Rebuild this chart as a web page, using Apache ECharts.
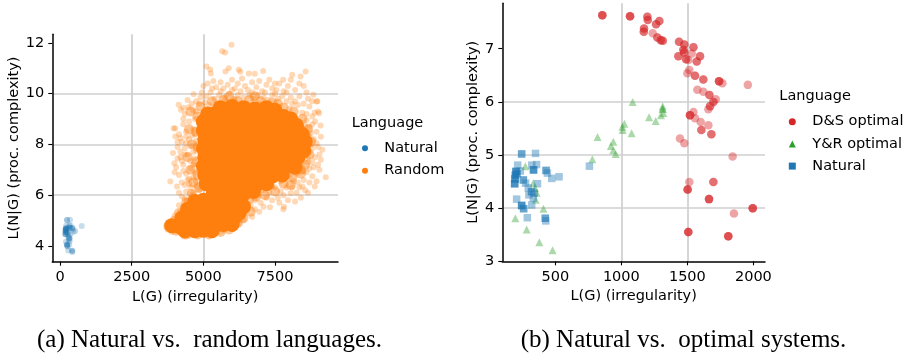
<!DOCTYPE html>
<html><head><meta charset="utf-8">
<script src="https://cdn.jsdelivr.net/npm/echarts@6/dist/echarts.min.js"></script>
<style>html,body{margin:0;padding:0;background:#fff}#c{width:907px;height:354px}</style>
</head><body><div id="c"></div>
<script>
// ---- tick labels ----
const leftXTicks = [0, 2500, 5000, 7500];
const leftYTicks = [4, 6, 8, 10, 12];
const rightXTicks = [500, 1000, 1500, 2000];
const rightYTicks = [3, 4, 5, 6, 7];

// ---- natural languages (L(G), L(N|G)); repeated entries = overlapping points ----
const naturalLangs = [
 [245,5.02],[245,5.02],[350,5.03],[215,4.81],
 [202,4.69],[202,4.69],[202,4.69],[197,4.62],[197,4.62],
 [195,4.55],[195,4.55],[195,4.55],[192,4.46],[192,4.46],[192,4.46],
 [210,4.65],[210,4.65],[335,4.72],[335,4.72],[335,4.72],
 [322,4.81],[358,4.82],[258,4.53],[258,4.53],[275,4.47],
 [430,4.71],[430,4.71],[440,4.66],[473,4.56],[528,4.59],
 [295,4.38],[320,4.31],[320,4.31],[365,4.46],[207,4.17],
 [245,4.05],[245,4.05],[245,4.05],[260,3.99],[260,3.99],
 [321,4.06],[333,4.19],[300,4.25],[288,3.82],
 [424,3.81],[424,3.81],[428,3.76],[758,4.79],[340,4.28],[235,4.70]
];

// ---- random languages: dense core, edge, sparse halo ----
const randomCore = [
 [5600,9.45],[6000,9.5],[6400,9.45],[6800,9.4],[7200,9.45],[7500,9.35],
 [5150,9.2],[5450,9.25],[5800,9.2],[6150,9.25],[6500,9.2],[6850,9.15],[7150,9.2],[7500,9.15],[7800,9.1],[8050,9.0],
 [5000,8.9],[5300,8.85],[5650,8.9],[5950,8.95],[6300,8.9],[6650,8.85],[7000,8.9],[7300,8.85],[7650,8.9],[7950,8.8],[8250,8.75],
 [5000,8.55],[5300,8.6],[5600,8.5],[5950,8.55],[6250,8.6],[6600,8.5],[6900,8.55],[7250,8.6],[7550,8.5],[7900,8.55],[8200,8.5],[8450,8.4],
 [5050,8.2],[5350,8.25],[5700,8.2],[6000,8.15],[6350,8.25],[6700,8.2],[7000,8.15],[7350,8.2],[7700,8.25],[8000,8.15],[8300,8.2],[8550,8.1],
 [5000,7.85],[5300,7.8],[5650,7.9],[5950,7.85],[6300,7.8],[6650,7.9],[6950,7.85],[7300,7.8],[7650,7.85],[7950,7.9],[8250,7.8],[8500,7.75],
 [5050,7.5],[5350,7.45],[5650,7.55],[6000,7.5],[6350,7.45],[6700,7.5],[7050,7.55],[7350,7.45],[7700,7.5],[8000,7.45],[8300,7.5],
 [5000,7.15],[5300,7.2],[5650,7.1],[5950,7.15],[6300,7.2],[6600,7.1],[6950,7.15],[7300,7.2],[7600,7.1],[7950,7.15],[8200,7.1],
 [5050,6.8],[5350,6.75],[5700,6.85],[6000,6.8],[6350,6.75],[6700,6.85],[7050,6.8],[7400,6.75],[7750,6.8],
 [5100,6.45],[5450,6.5],[5800,6.4],[6150,6.45],[6500,6.5],[6850,6.4],[7200,6.45],
 [5350,6.1],[5700,6.15],[6050,6.1],[6400,6.05],[6750,6.15],
 [4700,5.75],[5000,5.8],[5300,5.85],[5600,5.75],[5950,5.8],[6300,5.75],
 [4450,5.45],[4750,5.5],[5050,5.4],[5350,5.45],[5650,5.5],[5950,5.4],[6250,5.3],[6400,5.55],
 [4250,5.1],[4550,5.15],[4850,5.05],[5150,5.1],[5450,5.15],[5750,5.05],[6050,5.05],
 [3900,4.8],[4200,4.75],[4500,4.8],[4800,4.75],[5100,4.8],[5400,4.8],[5700,4.85],[6000,4.85],
 [4350,4.6],[4700,4.6],[5000,4.62],[5300,4.6]
];
const randomEdge = [
 [4900,9.5],[5300,9.7],[5700,9.75],[6200,9.7],[6600,9.75],[7000,9.7],[7400,9.65],[7800,9.45],[8150,9.3],[8450,9.0],
 [8650,8.6],[8750,8.1],[8700,7.6],[8550,7.2],[8400,6.85],[8100,6.7],[7800,6.45],[7500,6.15],[7150,6.0],[6850,5.95],
 [6600,5.85],[6650,5.35],[6400,5.1],[6200,4.9],[5900,4.65],[5600,4.55],[5200,4.45],[4800,4.45],[4400,4.45],[4050,4.6],
 [3780,4.8],[4000,5.0],[4150,5.3],[4400,5.7],[4600,6.05],[4850,6.3],[4800,6.8],[4750,7.3],[4800,7.9],[4750,8.5],
 [4800,9.1],[5500,6.05],[6000,5.95],[7300,6.4],[8050,6.4],[4600,8.0],[4550,7.0],[4650,6.5],
 [5900,9.9],[6800,9.9],[7600,9.6],[8500,8.0],[8400,7.0],[4500,8.6],[4450,7.5],[4550,9.3]
];
const randomHalo = [
 [5982,11.93],[5655,11.67],[5760,11.62],[5106,11.07],[5240,10.95],[5260,10.8],[5770,10.87],[5886,11.0],[6235,10.94],[6290,10.86],
 [6585,10.8],[6794,10.79],[7085,10.89],[7493,10.4],[7785,10.55],[8100,10.75],[8392,10.68],[8567,10.87],
 [5000,10.3],[4660,9.98],[5150,10.4],[5350,10.5],[5450,10.25],[5600,10.45],[5700,10.2],[5850,10.35],[6000,10.55],[6100,10.2],
 [6200,10.4],[6350,10.6],[6450,10.3],[6550,10.15],[6700,10.45],[6850,10.25],[6950,10.5],[7050,10.1],[7200,10.35],[7300,10.55],
 [7400,10.2],[7550,10.15],[7650,10.4],[7800,10.1],[7950,10.3],[8050,10.55],[8200,10.15],[8350,10.4],[8500,10.3],[8600,10.05],
 [5100,9.9],[5250,10.05],[5400,9.8],[5550,9.95],[5750,9.85],[5900,10.0],[6050,9.8],[6200,9.95],[6400,9.85],[6600,9.95],
 [6750,9.8],[6900,9.95],[7100,9.85],[7250,9.75],[7400,9.95],[7600,9.8],[7750,9.9],[7900,9.7],[8050,9.85],[8200,9.7],
 [8350,9.9],[8500,9.6],[8650,9.8],[8837,9.96],[8975,9.7],[8880,9.25],[9090,8.75],[8955,9.69],[9037,9.23],
 [4138,9.56],[4215,9.37],[4486,9.47],[4021,8.63],[3964,8.64],[4022,8.31],[3941,7.66],[3988,7.26],[3848,6.54],[4081,6.34],
 [4256,5.95],[4547,5.68],[4350,9.2],[4600,9.6],[4750,9.3],[4850,9.6],[4500,8.9],[4700,9.0],[4300,8.8],[4850,8.8],
 [4150,8.4],[4400,8.5],[4650,8.6],[4900,8.4],[4250,8.1],[4500,8.2],[4750,8.15],[4100,7.9],[4350,7.85],[4600,7.95],
 [4850,7.8],[4200,7.5],[4450,7.6],[4700,7.45],[4900,7.6],[4050,7.1],[4300,7.2],[4550,7.05],[4800,7.2],[4150,6.8],
 [4400,6.85],[4650,6.7],[4900,6.9],[4250,6.5],[4500,6.45],[4750,6.55],[4950,6.3],[4400,6.15],[4650,6.1],[4850,6.2],
 [4350,5.85],[4600,5.9],
 [8700,9.5],[8800,9.1],[8600,9.2],[8900,8.9],[8700,8.7],[8950,8.5],[8650,8.35],[8850,8.2],[9100,8.3],[8750,8.0],
 [9000,7.9],[9153,7.79],[8700,7.7],[8900,7.5],[9100,7.4],[8650,7.3],[8850,7.1],[9050,7.0],[8600,6.9],[8800,6.75],
 [9270,6.71],[8500,6.6],[8700,6.5],[8885,6.34],[8454,6.34],[8300,6.5],[8550,6.2],
 [8045,6.08],[7812,5.55],[7323,5.53],[7790,5.45],[8100,6.3],[7900,6.3],[7700,6.15],[7500,6.3],[7300,6.1],[7100,6.2],
 [7600,5.9],[7400,5.8],[7200,5.9],[7000,5.7],[6800,5.8],[7950,5.8],[7800,6.0],[8250,6.1],[6900,6.0],
 [3730,4.76],[3800,4.9],[3750,4.65],[3900,4.55],[4100,4.95],[4050,4.6],[4313,4.37],[4500,4.4],[4700,4.45],[4900,4.5],
 [5130,4.5],[5350,4.45],[5500,4.55],[5700,4.6],[5830,4.7],[6000,4.75],[6100,4.95],[6200,5.15],[6350,5.3],[6500,5.45],
 [6650,5.6],[6800,5.45],[6400,5.0],[6250,4.9],[4000,5.2],[4200,5.35],[4150,5.6],[4430,5.81],[4300,5.55],[4600,6.0],[5010,6.34],
 [4450,9.75],[4300,9.0],[4100,8.1],[4200,7.7],[4000,6.9],[4150,6.1],[4350,6.4],[4550,6.3],[4250,7.35],[4400,8.3],
 [4600,8.35],[4650,7.7],[4550,7.35],[4700,6.9],[4500,6.65],[8800,9.7],[9000,9.3],[8750,8.45],[8950,8.05],[9050,7.6],
 [8800,7.3],[9000,7.2],[8950,6.55],[8650,6.1],[8400,5.9],[8200,5.75],[7650,5.7],[7100,5.55],[6950,5.35],[6700,5.15],
 [5050,9.65],[5200,9.55],[5450,9.6],[5800,9.65],[6100,9.75],[6500,9.6],[6950,9.6],[7350,9.5],[7700,9.3],[8000,9.4],
 [8300,9.55],[8450,9.25],[8600,8.95],[8550,8.75],[8800,8.8],[8700,8.3],[8600,7.95],[8800,7.85],[8650,7.45],[8450,7.3],
 [8700,7.05],[8500,6.95],[8250,6.85],[8000,6.75],[7700,6.55],[7400,6.35],[7050,6.35],[6700,6.3],[8150,6.55],[8350,6.3],
 [4900,9.85],[4750,9.7],[4950,9.1],[4650,9.35],[4900,8.6],[4700,8.4],[4950,8.05],[4750,7.75],[4950,7.35],[4650,7.2],
 [4850,7.0],[4950,6.65],[4750,6.35],[4450,6.6],[4300,6.95],[4100,7.45],[4350,7.6],[4200,8.25],[4400,8.05],[4300,9.45],
 [6000,10.15],[6300,10.1],[6700,10.05],[7150,10.05],[7500,10.0],[7900,10.05],[8100,9.6],[5600,10.1],[5300,10.2],[4950,10.05]
];

// ---- optimal systems ----
const dsOptimal = [
 [856,7.63],[856,7.63],[856,7.63],[1066,7.61],[1066,7.61],[1066,7.61],
 [1197,7.60],[1197,7.60],[1200,7.54],[1200,7.54],[1288,7.52],[1288,7.52],[1263,7.46],[1263,7.46],
 [1172,7.38],[1172,7.38],[1170,7.32],[1170,7.32],[1238,7.29],[1273,7.21],[1273,7.21],
 [1299,7.16],[1299,7.16],[1314,7.15],[1314,7.15],[1437,7.13],[1437,7.13],[1477,7.08],[1477,7.08],
 [1546,7.03],[1546,7.03],[1470,6.98],[1470,6.98],[1475,6.93],[1475,6.93],[1533,6.91],
 [1596,6.86],[1596,6.86],[1432,6.86],[1432,6.86],[1490,6.80],[1490,6.80],[1508,6.79],
 [1571,6.76],[1571,6.76],[1515,6.60],[1500,6.54],[1558,6.49],[1558,6.49],[1621,6.42],[1621,6.42],
 [1740,6.39],[1740,6.39],[1740,6.39],[1765,6.35],[1958,6.32],[1576,6.23],[1621,6.19],
 [1667,6.13],[1667,6.13],[1715,6.05],[1697,6.00],[1697,6.00],[1672,5.92],[1672,5.92],[1659,5.86],
 [1520,5.75],[1520,5.75],[1520,5.75],[1546,5.81],[1558,5.69],[1601,5.62],[1659,5.56],
 [1606,5.47],[1606,5.47],[1682,5.39],[1682,5.39],[1444,5.31],[1477,5.22],[1843,4.97],
 [1515,4.49],[1697,4.49],[1697,4.49],[1502,4.35],[1502,4.35],[1502,4.35],
 [1664,4.17],[1664,4.17],[1664,4.17],[1995,4.00],[1995,4.00],[1995,4.00],[1853,3.90],
 [1507,3.55],[1507,3.55],[1507,3.55],[1810,3.47],[1810,3.47],[1810,3.47]
];
const yrOptimal = [
 [1086,6.00],[1313,5.92],[1313,5.87],[1313,5.87],[1318,5.79],[1300,5.75],
 [1210,5.71],[1260,5.64],[1023,5.59],[1008,5.53],[1010,5.47],[1078,5.41],
 [820,5.34],[939,5.25],[921,5.17],[939,5.09],[957,5.02],[780,4.92],
 [273,4.79],[333,4.47],[346,4.38],[359,4.29],[352,4.16],[410,3.99],
 [197,3.81],[283,3.60],[379,3.36],[479,3.21]
];

const FONT = 'DejaVu Sans';
const txt = { color: '#000', fontSize: 14.5, fontFamily: FONT };

function axis(grid, min, max, ticks, name, nameGap, isY) {
  return {
    type: 'value', gridIndex: grid, min: min, max: max,
    name: name, nameLocation: 'middle', nameGap: nameGap,
    nameRotate: isY ? 90 : 0,
    nameTextStyle: txt,
    axisLine: { show: true, onZero: false, lineStyle: { color: '#000', width: 1.5 } },
    axisTick: { show: true, length: 4, customValues: ticks, lineStyle: { color: '#000', width: 1.1 } },
    axisLabel: Object.assign({ customValues: ticks, margin: 8, formatter: function (v) { return String(v); } }, txt),
    splitLine: { show: true, showMinLine: false, showMaxLine: false, lineStyle: { color: '#cfcfcf', width: 1.7 } }
  };
}

const chart = echarts.init(document.getElementById('c'), null, { renderer: 'canvas' });
const option = {
  animation: false,
  backgroundColor: '#fff',
  grid: [
    { left: 52.3, top: 34.3, width: 285.7, height: 227.4 },
    { left: 502.3, top: 3.3, width: 262.7, height: 258 }
  ],
  xAxis: [
    axis(0, -269, 9697, leftXTicks, 'L(G) (irregularity)', 25, false),
    axis(1, 98.5, 2088, rightXTicks, 'L(G) (irregularity)', 25, false)
  ],
  yAxis: [
    axis(0, 3.38, 12.34, leftYTicks, 'L(N|G) (proc. complexity)', 31, true),
    axis(1, 3, 7.855, rightYTicks, 'L(N|G) (proc. complexity)', 22, true)
  ],
  title: [
    { text: 'Language', left: 351.7, top: 114.5, padding: 0, textStyle: Object.assign({ fontWeight: 'normal', lineHeight: 17 }, txt) },
    { text: 'Language', left: 779.3, top: 88.2, padding: 0, textStyle: Object.assign({ fontWeight: 'normal', lineHeight: 17 }, txt) }
  ],
  legend: [
    {
      orient: 'vertical', left: 362, top: 140.3, padding: 0, itemGap: 6.4,
      itemWidth: 6, itemHeight: 6, selectedMode: false,
      textStyle: Object.assign({ lineHeight: 16, padding: [0, 0, 0, 11.3] }, txt),
      data: [
        { name: 'Natural', icon: 'circle', itemStyle: { color: '#1f77b4', opacity: 1 } },
        { name: 'Random', icon: 'circle', itemStyle: { color: '#ff7f0e', opacity: 1 } }
      ]
    },
    {
      orient: 'vertical', left: 788.8, top: 113.7, padding: 0, itemGap: 6.2,
      itemWidth: 7, itemHeight: 7, selectedMode: false,
      textStyle: Object.assign({ lineHeight: 16, padding: [0, 0, 0, 11.5] }, txt),
      data: [
        { name: 'D&S optimal', icon: 'circle', itemStyle: { color: '#d62728', opacity: 1 } },
        { name: 'Y&R optimal', icon: 'triangle', itemStyle: { color: '#2ca02c', opacity: 1 } },
        { name: 'Natural', icon: 'rect', itemStyle: { color: '#1f77b4', opacity: 1 } }
      ]
    }
  ],
  graphic: [
    { type: 'text', x: 209.5, y: 340, style: { text: '(a) Natural vs.  random languages.', font: '25px "Liberation Serif"', fill: '#000', align: 'center', verticalAlign: 'middle' } },
    { type: 'text', x: 683.5, y: 340, style: { text: '(b) Natural vs.  optimal systems.', font: '25px "Liberation Serif"', fill: '#000', align: 'center', verticalAlign: 'middle' } }
  ],
  series: [
    { name: 'Natural', type: 'scatter', xAxisIndex: 0, yAxisIndex: 0, data: naturalLangs, symbol: 'circle', symbolSize: 6,
      itemStyle: { color: '#1f77b4', opacity: 0.25 }, emphasis: { disabled: true } },
    { name: 'Random', type: 'scatter', xAxisIndex: 0, yAxisIndex: 0, data: randomHalo, symbol: 'circle', symbolSize: 6,
      itemStyle: { color: '#ff7f0e', opacity: 0.3 }, emphasis: { disabled: true } },
    { name: 'Random', type: 'scatter', xAxisIndex: 0, yAxisIndex: 0, data: randomEdge, symbol: 'circle', symbolSize: 10,
      itemStyle: { color: '#ff7f0e', opacity: 0.45 }, emphasis: { disabled: true } },
    { name: 'Random', type: 'scatter', xAxisIndex: 0, yAxisIndex: 0, data: randomCore, symbol: 'circle', symbolSize: 15,
      itemStyle: { color: '#ff7f0e', opacity: 1 }, emphasis: { disabled: true } },
    { name: 'D&S optimal', type: 'scatter', xAxisIndex: 1, yAxisIndex: 1, data: dsOptimal, symbol: 'circle', symbolSize: 8.5,
      itemStyle: { color: '#d62728', opacity: 0.42 }, emphasis: { disabled: true } },
    { name: 'Y&R optimal', type: 'scatter', xAxisIndex: 1, yAxisIndex: 1, data: yrOptimal, symbol: 'triangle', symbolSize: 8,
      itemStyle: { color: '#2ca02c', opacity: 0.4 }, emphasis: { disabled: true } },
    { name: 'Natural ', type: 'scatter', xAxisIndex: 1, yAxisIndex: 1, data: naturalLangs, symbol: 'rect', symbolSize: 7.5,
      itemStyle: { color: '#1f77b4', opacity: 0.42 }, emphasis: { disabled: true } }
  ]
};
chart.setOption(option);
</script>
</body></html>
